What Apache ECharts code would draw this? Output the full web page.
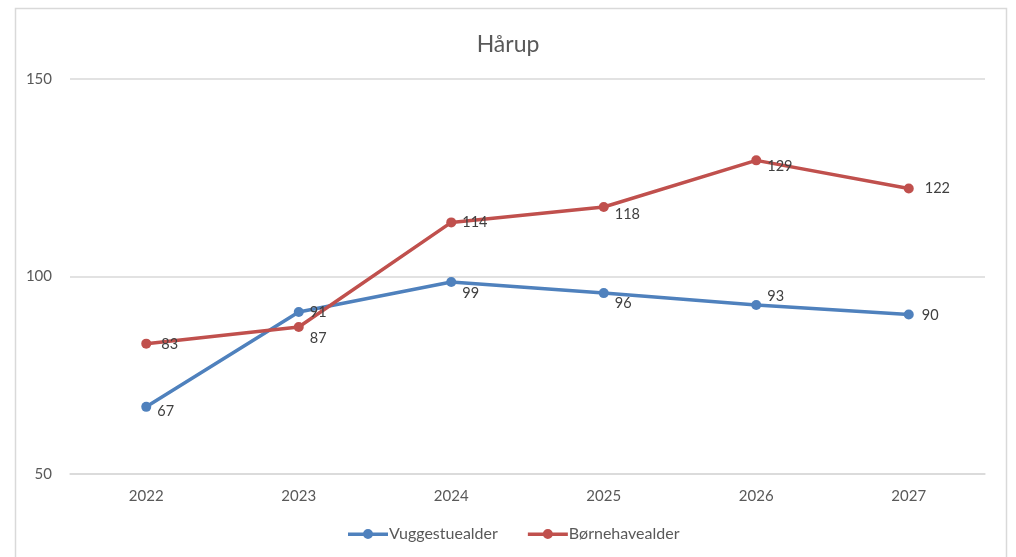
<!DOCTYPE html>
<html lang="da">
<head>
    <meta charset="UTF-8">
    <title>Hårup</title>
    <script src="https://cdn.jsdelivr.net/npm/echarts@6/dist/echarts.min.js"></script>
    <style>
        html, body { margin: 0; padding: 0; background: #ffffff; }
        #chart { width: 1016px; height: 557px; }
    </style>
</head>
<body>
<div id="chart"></div>
<script>
    // data
    var years = ['2022', '2023', '2024', '2025', '2026', '2027'];
    var vuggestue = [67, 91, 98.6, 95.8, 92.8, 90.4];
    var boernehave = [83, 87.2, 113.7, 117.6, 129.4, 122.3];
    var yTicks = [50, 100, 150];

    var blue = '#4f81bd';
    var red = '#c0504d';
    var fontName = 'Lato, "Open Sans", sans-serif';

    // label nudges (x, y) per point so they sit like in the original
    var vugOffsets = [[0, 4], [0, 0], [0, 11], [0, 10], [0, -9], [2, 1]];
    var boeOffsets = [[4, 1], [0, 11], [0, 0], [0, 7], [0, 6], [5, 0]];

    // thick line with a dot, like the excel legend marker
    var legendIcon = 'path://M0,4 L40,4 L40,7.5 L0,7.5 Z M20,0.5 A5,5 0 1,1 20,10.5 A5,5 0 1,1 20,0.5 Z';

    function buildData(values, offsets) {
        return values.map(function (v, i) {
            return { value: v, label: { offset: offsets[i] } };
        });
    }

    var chart = echarts.init(document.getElementById('chart'));
    var option = {
        backgroundColor: '#ffffff',
        animation: false,
        textStyle: { fontFamily: fontName },
        graphic: [{
            type: 'rect',
            shape: { x: 15.5, y: 8.5, width: 991, height: 600 },
            style: { fill: 'none', stroke: '#d9d9d9', lineWidth: 1.5 },
            silent: true
        }],
        title: {
            text: 'Hårup',
            left: 'center',
            top: 28,
            textStyle: { fontFamily: fontName, fontSize: 23, fontWeight: 'normal', color: '#595959' }
        },
        legend: {
            bottom: 10,
            left: 343,
            itemWidth: 40,
            itemHeight: 11,
            itemGap: 30,
            textStyle: { fontFamily: fontName, fontSize: 16, color: '#595959', padding: [0, 0, 0, -4] },
            data: [
                { name: 'Vuggestuealder', icon: legendIcon },
                { name: 'Børnehavealder', icon: legendIcon }
            ]
        },
        grid: { left: 70, right: 31, top: 79, bottom: 83 },
        xAxis: {
            type: 'category',
            data: years,
            boundaryGap: true,
            axisLine: { show: true, lineStyle: { color: '#d9d9d9', width: 1.5 } },
            axisTick: { show: false },
            axisLabel: { color: '#595959', fontSize: 15, margin: 15, fontFamily: fontName }
        },
        yAxis: {
            type: 'value',
            min: yTicks[0],
            max: yTicks[yTicks.length - 1],
            interval: 50,
            axisLine: { show: false },
            axisTick: { show: false },
            axisLabel: { color: '#595959', fontSize: 15, margin: 18, fontFamily: fontName },
            splitLine: { lineStyle: { color: '#d9d9d9', width: 1.5 } }
        },
        series: [{
            name: 'Vuggestuealder',
            type: 'line',
            data: buildData(vuggestue, vugOffsets),
            symbol: 'circle',
            symbolSize: 10,
            itemStyle: { color: blue },
            lineStyle: { color: blue, width: 3.5 },
            label: {
                show: true,
                position: 'right',
                distance: 6,
                color: '#404040',
                fontSize: 14.5,
                fontFamily: fontName,
                formatter: function (p) { return Math.round(p.value); }
            }
        }, {
            name: 'Børnehavealder',
            type: 'line',
            data: buildData(boernehave, boeOffsets),
            symbol: 'circle',
            symbolSize: 10,
            itemStyle: { color: red },
            lineStyle: { color: red, width: 3.5 },
            label: {
                show: true,
                position: 'right',
                distance: 6,
                color: '#404040',
                fontSize: 14.5,
                fontFamily: fontName,
                formatter: function (p) { return Math.round(p.value); }
            }
        }]
    };
    chart.setOption(option);
</script>
</body>
</html>
